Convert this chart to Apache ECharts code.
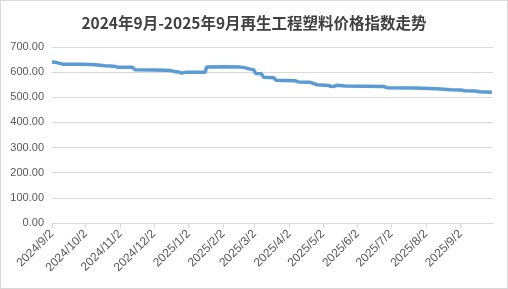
<!DOCTYPE html>
<html>
<head>
<meta charset="utf-8">
<script src="https://cdn.jsdelivr.net/npm/echarts@6/dist/echarts.min.js"></script>
<style>
html,body{margin:0;padding:0;background:#fff;}
#c{position:absolute;left:0;top:0;width:506px;height:287px;border:1px solid #d9d9d9;}
</style>
</head>
<body>
<div id="c"></div>
<script>
const titleText = '2024年9月-2025年9月再生工程塑料价格指数走势';
const dates = ['2024-09-02','2024-09-06','2024-09-09','2024-09-12','2024-09-27','2024-10-06','2024-10-10','2024-10-15','2024-10-19','2024-10-24','2024-10-29','2024-10-31','2024-11-13','2024-11-15','2024-12-03','2024-12-12','2024-12-16','2024-12-20','2024-12-24','2024-12-27','2024-12-31','2025-01-17','2025-01-18','2025-02-03','2025-02-17','2025-02-21','2025-02-26','2025-03-01','2025-03-03','2025-03-08','2025-03-10','2025-03-19','2025-03-21','2025-04-07','2025-04-10','2025-04-20','2025-04-27','2025-05-07','2025-05-09','2025-05-12','2025-05-15','2025-05-22','2025-06-09','2025-06-25','2025-06-28','2025-07-23','2025-08-06','2025-08-15','2025-08-24','2025-09-02','2025-09-06','2025-09-15','2025-09-19','2025-09-30'];
const values = [640,638,635,631,631,630,629,627,625,624,622,619,619,610,609,608,607,603,601,596,600,600,620,621,620,618,612,610,595,594,580,578,568,566,561,560,550,547,544,543,548,545,544,543,538,537,535,533,530,529,526,525,522,520];
const tickDates = ['2024-09-02','2024-10-02','2024-11-02','2024-12-02','2025-01-02','2025-02-02','2025-03-02','2025-04-02','2025-05-02','2025-06-02','2025-07-02','2025-08-02','2025-09-02'];
const yTicks = [0,100,200,300,400,500,600,700];

function ts(s){const p=s.split('-').map(Number);return Date.UTC(p[0],p[1]-1,p[2]);}
const chart = echarts.init(document.getElementById('c'));
chart.setOption({
  animation:false,
  title:{text:titleText,left:'center',top:9,textStyle:{fontSize:15.5,fontWeight:'bold',color:'#404040',fontFamily:'Noto Sans CJK SC'}},
  grid:{left:51,right:14,top:46,bottom:65,containLabel:false},
  xAxis:{type:'value',min:ts('2024-09-02'),max:ts('2025-10-01'),
    axisLine:{lineStyle:{color:'#d9d9d9'}},
    axisTick:{show:true,length:5,lineStyle:{color:'#d9d9d9'},customValues:tickDates.map(ts)},
    axisLabel:{customValues:tickDates.map(ts),rotate:45,fontSize:12,color:'#595959',margin:9,hideOverlap:false,fontFamily:'Liberation Sans',
      formatter:function(v){const d=new Date(v);return d.getUTCFullYear()+'/'+(d.getUTCMonth()+1)+'/'+d.getUTCDate();}},
    splitLine:{show:false}},
  yAxis:{type:'value',min:yTicks[0],max:yTicks[yTicks.length-1],interval:100,
    axisLine:{show:false},axisTick:{show:false},
    axisLabel:{fontSize:11,color:'#595959',margin:8,fontFamily:'Liberation Sans',formatter:function(v){return v.toFixed(2);}},
    splitLine:{lineStyle:{color:'#d9d9d9'}}},
  series:[{type:'line',data:dates.map((d,i)=>[ts(d),values[i]]),showSymbol:false,
    lineStyle:{color:'#5B9BD5',width:3.5},itemStyle:{color:'#5B9BD5'}}]
});
</script>
</body>
</html>
